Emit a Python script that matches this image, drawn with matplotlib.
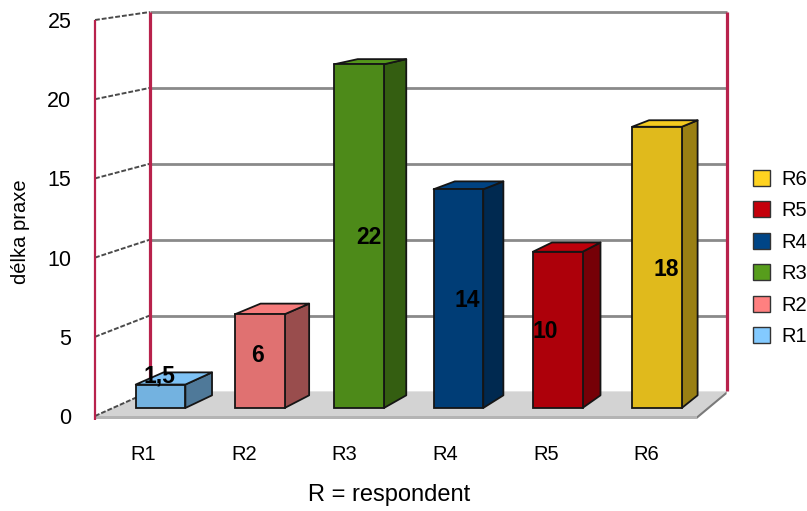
import matplotlib
matplotlib.use("Agg")
import matplotlib.pyplot as plt
from matplotlib.patches import Polygon, Patch
from matplotlib.colors import to_rgb

# ---- data -------------------------------------------------------------
categories = ["R1", "R2", "R3", "R4", "R5", "R6"]
values = [1.5, 6, 22, 14, 10, 18]
value_labels = ["1,5", "6", "22", "14", "10", "18"]
colors = ["#83caff", "#ff8080", "#579d1c", "#004586", "#c5000b", "#ffd320"]
yticks = [0, 5, 10, 15, 20, 25]

# ---- styling / scene geometry ------------------------------------------
plt.rcParams["font.family"] = ["Liberation Sans", "DejaVu Sans"]
W, H = 807, 511
XMIN, XMAX = -0.48, 5.5
YMAX = 25
VX, VY = 12.5, 37.0          # vanishing point (data units)
F_WALL = 0.042               # depth of back wall
F0, F1 = 0.0137, 0.0353      # front / back depth of the bars
BAR_W = 0.5
CRIMSON = "#b8224c"
GRID = "#8a8a8a"

# pixel nudges for the value labels
label_dx = [-1, -2, 10, 9, -12, 9]
label_dy = [-20, -6, 1, 2, 2, 2]


def proj(x, v, f):
    """Move a front-plane point toward the vanishing point by depth f."""
    return (x + (VX - x) * f, v + (VY - v) * f)


def shade(c, k):
    r, g, b = to_rgb(c)
    return (min(r * k, 1), min(g * k, 1), min(b * k, 1))


fig = plt.figure(figsize=(W / 100, H / 100), dpi=100)
ax = fig.add_axes([95 / W, 1 - 416 / H, (697 - 95) / W, (416 - 20) / H])
ax.set_xlim(XMIN, XMAX)
ax.set_ylim(0, YMAX)
ax.set_facecolor("none")
for s in ax.spines.values():
    s.set_visible(False)

# floor slab
floor = [proj(XMIN, 0, 0), proj(XMAX, 0, 0), proj(XMAX, 0, F_WALL), proj(XMIN, 0, F_WALL)]
ax.add_patch(Polygon(floor, closed=True, fc="#d3d3d3", ec="none", zorder=1, clip_on=False))
th = 0.18
front_strip = [proj(XMIN, 0, 0), proj(XMAX, 0, 0), proj(XMAX, -th, 0), proj(XMIN, -th, 0)]
ax.add_patch(Polygon(front_strip, closed=True, fc="#b4b4b4", ec="none", zorder=1, clip_on=False))
right_strip = [proj(XMAX, 0, 0), proj(XMAX, 0, F_WALL), proj(XMAX, -th, F_WALL), proj(XMAX, -th, 0)]
ax.add_patch(Polygon(right_strip, closed=True, fc="#7a7a7a", ec="none", zorder=1, clip_on=False))

# back wall grid lines
for t in yticks[1:]:
    p, q = proj(XMIN, t, F_WALL), proj(XMAX, t, F_WALL)
    ax.plot([p[0], q[0]], [p[1], q[1]], color=GRID, lw=2.0, zorder=2,
            clip_on=False, solid_capstyle="butt")

# side wall grid lines
for t in yticks:
    p, q = proj(XMIN, t, 0), proj(XMIN, t, F_WALL)
    ax.plot([p[0], q[0]], [p[1], q[1]], color="#4a4a4a", lw=1.4, zorder=2,
            clip_on=False, linestyle=(0, (2.5, 1)))

# wall edges
for x, f, lw in [(XMIN, 0, 1.6), (XMIN, F_WALL, 2.3), (XMAX, F_WALL, 2.3)]:
    p, q = proj(x, -0.25 if f == 0 else 0, f), proj(x, YMAX, f)
    ax.plot([p[0], q[0]], [p[1], q[1]], color=CRIMSON, lw=lw, zorder=2,
            clip_on=False, solid_capstyle="butt")

# bars: front face via ax.bar, side and top faces as polygons
xs = list(range(len(categories)))
front_x = [proj(i, 0, F0)[0] for i in xs]
front_bottom = proj(0, 0, F0)[1]
front_h = [proj(0, v, F0)[1] - front_bottom for v in values]
ax.bar(front_x, front_h, width=BAR_W * (1 - F0), bottom=front_bottom,
       color=[shade(c, 0.88) for c in colors], edgecolor="#151515",
       linewidth=1.3, zorder=4, clip_on=False)

for i, v, c in zip(xs, values, colors):
    x0, x1 = i - BAR_W / 2, i + BAR_W / 2
    side = [proj(x1, 0, F0), proj(x1, 0, F1), proj(x1, v, F1), proj(x1, v, F0)]
    top = [proj(x0, v, F0), proj(x1, v, F0), proj(x1, v, F1), proj(x0, v, F1)]
    ax.add_patch(Polygon(side, closed=True, fc=shade(c, 0.6), ec="#151515",
                         lw=1.3, zorder=3, joinstyle="round", clip_on=False))
    ax.add_patch(Polygon(top, closed=True, fc=shade(c, 0.96), ec="#151515",
                         lw=1.3, zorder=3, joinstyle="round", clip_on=False))

# value labels
for i, v, lab, dx, dy in zip(xs, values, value_labels, label_dx, label_dy):
    cx, cy = proj(i, v / 2, F0)
    ax.annotate(lab, (cx, cy), xytext=(dx * 0.72, -dy * 0.72),
                textcoords="offset points", ha="center", va="center",
                fontsize=16.5, fontweight="bold", color="black", zorder=6)

# axes ticks
ax.set_yticks(yticks)
ax.set_yticklabels([str(t) for t in yticks])
ax.set_xticks(xs)
ax.set_xticklabels(categories)
ax.tick_params(axis="y", length=0, pad=17, labelsize=15.5)
ax.tick_params(axis="x", length=0, pad=21, labelsize=14.5)

fig.text(389 / W, 1 - 495 / H, "R = respondent", ha="center", va="center", fontsize=17)
fig.text(21 / W, 1 - 232 / H, "délka praxe", ha="center", va="center",
         rotation=90, fontsize=14.5)

# legend (reverse order, top = R6)
handles = [Patch(facecolor=c, edgecolor="#333333", lw=1.0) for c in colors][::-1]
labels = categories[::-1]
fig.legend(handles, labels, loc="center left", bbox_to_anchor=(753 / W, 1 - 258 / H),
           frameon=False, fontsize=14.5, handlelength=0.85, handleheight=0.85,
           handletextpad=0.55, labelspacing=0.62, borderpad=0, borderaxespad=0)

fig.savefig("out.png", dpi=100)
